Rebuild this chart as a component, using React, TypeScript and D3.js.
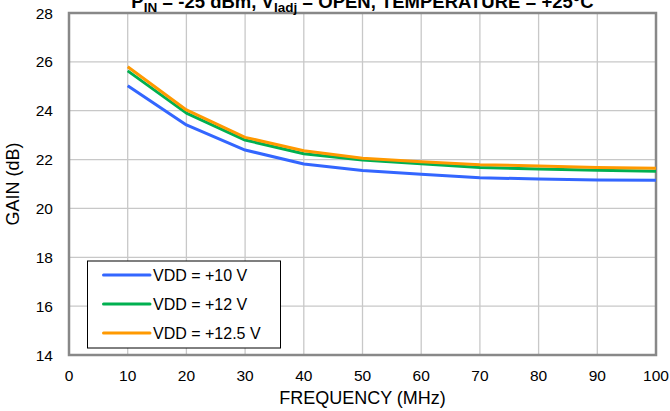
import React from "react";
import * as d3 from "d3";

const freqs = [10, 20, 30, 40, 50, 60, 70, 80, 90, 100];
const vdd10 = [25.02, 23.42, 22.39, 21.82, 21.55, 21.4, 21.26, 21.2, 21.16, 21.15];
const vdd12 = [25.63, 23.9, 22.8, 22.24, 21.98, 21.83, 21.68, 21.61, 21.56, 21.52];
const vdd125 = [25.8, 24.03, 22.91, 22.36, 22.05, 21.91, 21.79, 21.74, 21.68, 21.64];
const seriesNames = ["VDD = +10 V", "VDD = +12 V", "VDD = +12.5 V"];
const seriesColors = ["#3366ff", "#00b050", "#ff9900"];
const xTicks = [0, 10, 20, 30, 40, 50, 60, 70, 80, 90, 100];
const yTicks = [14, 16, 18, 20, 22, 24, 26, 28];

export default function App() {
  const W = 670, H = 411;
  const left = 69, right = 656, top = 13, bottom = 355;
  const x = d3.scaleLinear().domain([0, 100]).range([left, right]);
  const y = d3.scaleLinear().domain([14, 28]).range([bottom, top]);
  const line = d3.line<number>().x((_, i) => x(freqs[i])).y((d) => y(d));
  const data = [vdd10, vdd12, vdd125];
  const font = "Liberation Sans, Arial, sans-serif";

  return (
    <svg width={W} height={H} style={{ position: "absolute", left: 0, top: 0, background: "#fff" }} fontFamily={font}>
      {xTicks.slice(1, -1).map((t) => (
        <line key={"gx" + t} x1={x(t)} x2={x(t)} y1={top} y2={bottom} stroke="#c8c8c8" strokeWidth={1.3} />
      ))}
      {yTicks.slice(1, -1).map((t) => (
        <line key={"gy" + t} x1={left} x2={right} y1={y(t)} y2={y(t)} stroke="#c8c8c8" strokeWidth={1.3} />
      ))}
      <rect x={left} y={top} width={right - left} height={bottom - top} fill="none" stroke="#888" strokeWidth={2.5} />
      {data.map((d, i) => (
        <path key={i} d={line(d) || ""} fill="none" stroke={seriesColors[i]} strokeWidth={3} strokeLinejoin="round" />
      ))}
      {yTicks.map((t) => (
        <text key={"ty" + t} x={53} y={y(t) + 5.5} textAnchor="end" fontSize={15.5} fill="#000">{t}</text>
      ))}
      {xTicks.map((t) => (
        <text key={"tx" + t} x={x(t)} y={381} textAnchor="middle" fontSize={15.5} fill="#000">{t}</text>
      ))}
      <text x={(left + right) / 2} y={404} textAnchor="middle" fontSize={18} fill="#000">FREQUENCY (MHz)</text>
      <text transform={`translate(19,${(top + bottom) / 2}) rotate(-90)`} textAnchor="middle" fontSize={18} fill="#000">GAIN (dB)</text>
      <text x={(left + right) / 2} y={8} textAnchor="middle" fontSize={18.5} fontWeight="bold" fill="#000">
        P<tspan fontSize={13.5} dy={4}>IN</tspan>
        <tspan dy={-4}> = -25 dBm, V</tspan>
        <tspan fontSize={13.5} dy={4}>Iadj</tspan>
        <tspan dy={-4}> = OPEN, TEMPERATURE = +25°C</tspan>
      </text>
      <rect x={87.5} y={261} width={193} height={87} fill="#fff" stroke="#000" strokeWidth={1} />
      {seriesNames.map((n, i) => (
        <g key={n}>
          <line x1={103.5} x2={150} y1={275 + i * 29} y2={275 + i * 29} stroke={seriesColors[i]} strokeWidth={3} strokeLinecap="round" />
          <text x={153} y={275 + i * 29 + 6} fontSize={16} fill="#000">{n}</text>
        </g>
      ))}
    </svg>
  );
}
